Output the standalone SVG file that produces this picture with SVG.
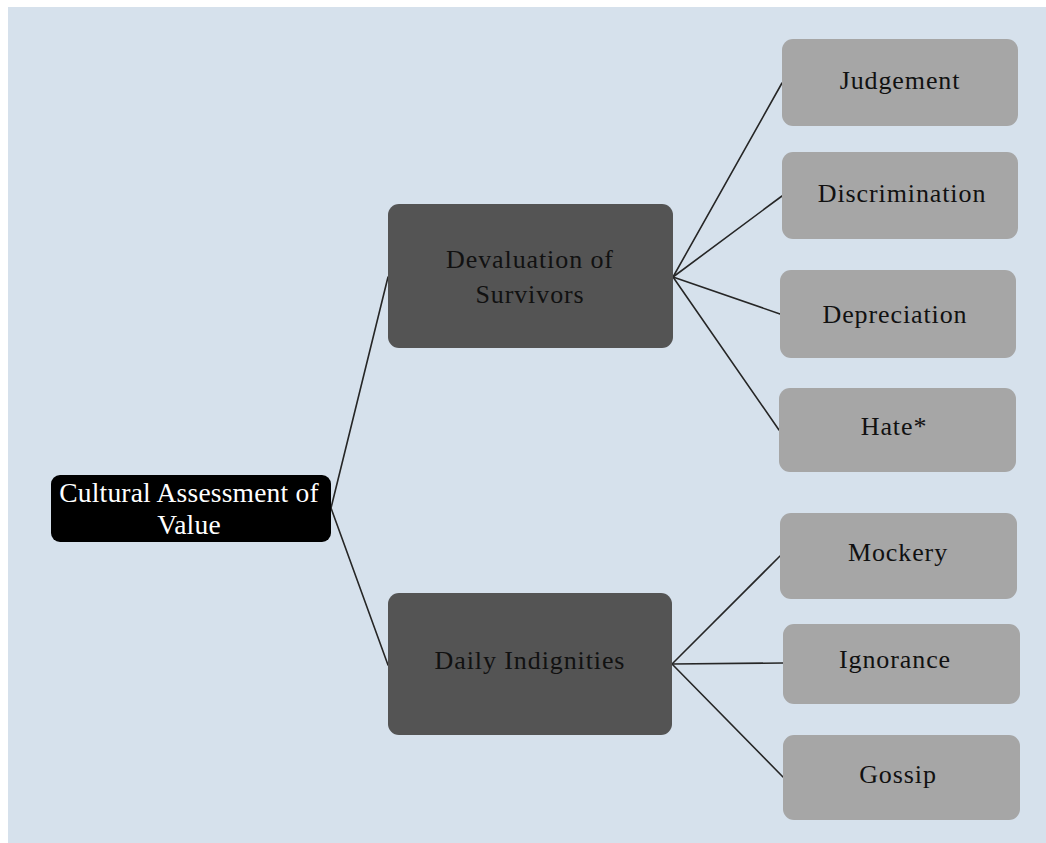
<svg xmlns="http://www.w3.org/2000/svg" width="1046" height="843" viewBox="0 0 1046 843">
  <style>
    .bg { fill: #d6e1ec; }
    .root { fill: #000000; }
    .mid { fill: #545454; }
    .leaf { fill: #a6a6a6; }
    .link { stroke: #262626; stroke-width: 1.6; fill: none; stroke-linecap: round; }
    text { font-family: "Liberation Serif", "Times New Roman", serif; text-anchor: middle; }
    .t-root { fill: #ffffff; font-size: 27.5px; letter-spacing: 0.2px; }
    .t-mid { fill: #111111; font-size: 26px; letter-spacing: 0.9px; }
    .t-leaf { fill: #111111; font-size: 26px; letter-spacing: 0.9px; }
  </style>

  <rect class="bg" x="8" y="7" width="1038" height="836"/>

  <!-- connectors -->
  <g id="connectors">
    <line class="link" x1="331" y1="508" x2="388" y2="277"/>
    <line class="link" x1="331" y1="508" x2="388" y2="665"/>
    <line class="link" x1="673" y1="277" x2="782" y2="83"/>
    <line class="link" x1="673" y1="277" x2="782" y2="196"/>
    <line class="link" x1="673" y1="277" x2="780" y2="314"/>
    <line class="link" x1="673" y1="277" x2="779" y2="430"/>
    <line class="link" x1="672" y1="664" x2="780" y2="556"/>
    <line class="link" x1="672" y1="664" x2="783" y2="663"/>
    <line class="link" x1="672" y1="664" x2="783" y2="777"/>
  </g>

  <!-- root -->
  <g id="node-cultural-assessment">
    <rect class="root" x="51" y="475" width="280" height="67" rx="9"/>
    <text class="t-root" x="189" y="502">Cultural Assessment of</text>
    <text class="t-root" x="189" y="534">Value</text>
  </g>

  <!-- second level -->
  <g id="node-devaluation">
    <rect class="mid" x="388" y="204" width="285" height="144" rx="11"/>
    <text class="t-mid" x="530" y="268">Devaluation of</text>
    <text class="t-mid" x="530" y="303">Survivors</text>
  </g>
  <g id="node-daily-indignities">
    <rect class="mid" x="388" y="593" width="284" height="142" rx="11"/>
    <text class="t-mid" x="530" y="669">Daily Indignities</text>
  </g>

  <!-- leaves -->
  <g id="node-judgement">
    <rect class="leaf" x="782" y="39" width="236" height="87" rx="11"/>
    <text class="t-leaf" x="900" y="89">Judgement</text>
  </g>
  <g id="node-discrimination">
    <rect class="leaf" x="782" y="152" width="236" height="87" rx="11"/>
    <text class="t-leaf" x="902" y="202">Discrimination</text>
  </g>
  <g id="node-depreciation">
    <rect class="leaf" x="780" y="270" width="236" height="88" rx="11"/>
    <text class="t-leaf" x="895" y="323">Depreciation</text>
  </g>
  <g id="node-hate">
    <rect class="leaf" x="779" y="388" width="237" height="84" rx="11"/>
    <text class="t-leaf" x="894" y="435">Hate*</text>
  </g>
  <g id="node-mockery">
    <rect class="leaf" x="780" y="513" width="237" height="86" rx="11"/>
    <text class="t-leaf" x="898" y="561">Mockery</text>
  </g>
  <g id="node-ignorance">
    <rect class="leaf" x="783" y="624" width="237" height="80" rx="11"/>
    <text class="t-leaf" x="895" y="668">Ignorance</text>
  </g>
  <g id="node-gossip">
    <rect class="leaf" x="783" y="735" width="237" height="85" rx="11"/>
    <text class="t-leaf" x="898" y="783">Gossip</text>
  </g>
</svg>
